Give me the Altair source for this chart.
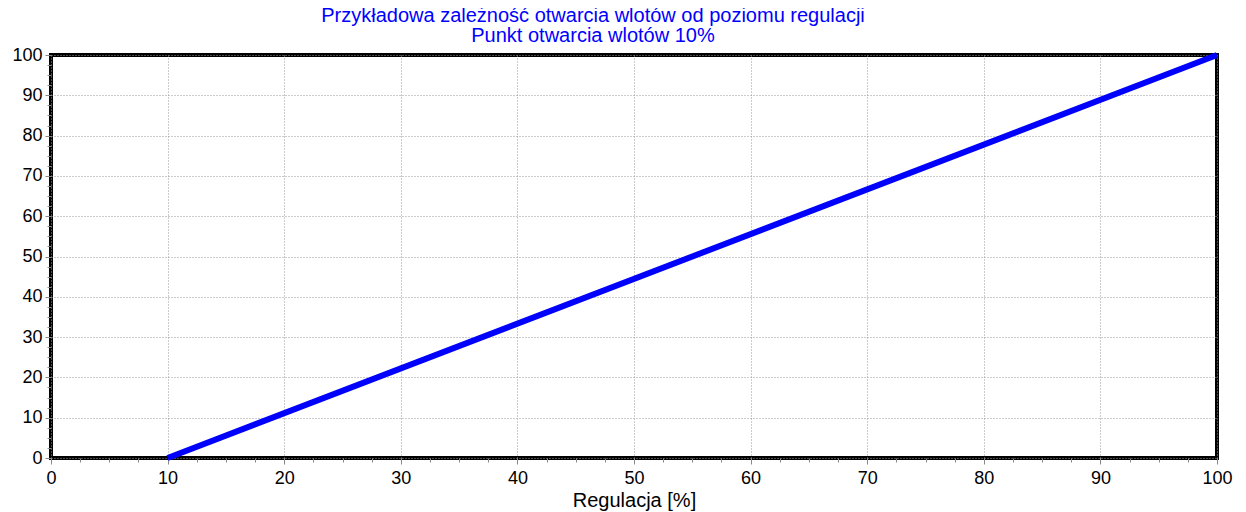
import altair as alt
import pandas as pd

reg = [10, 100]
otw = [0, 100]
major = [0, 10, 20, 30, 40, 50, 60, 70, 80, 90, 100]
minor = [i * 2.5 for i in range(41)]

df = pd.DataFrame({"x": reg, "y": otw})
FONT = "Liberation Sans"

xscale = alt.Scale(domain=[0, 100], nice=False)
yscale = alt.Scale(domain=[0, 100], nice=False)

line = alt.Chart(df).mark_line(color="#0000FF", strokeWidth=6, strokeCap="butt").encode(
    x=alt.X("x:Q", scale=xscale,
            axis=alt.Axis(values=major, title="Regulacja [%]", orient="bottom",
                          grid=True, gridColor="#999999", gridDash=[1, 2], gridWidth=1,
                          tickColor="#888888", tickSize=6, labelFontSize=18,
                          labelFont=FONT, labelColor="black", labelPadding=5,
                          titleFont=FONT, titleFontSize=20, titleFontWeight="normal",
                          titleColor="black", titlePadding=3, domain=False, labelFlush=False)),
    y=alt.Y("y:Q", scale=yscale,
            axis=alt.Axis(values=major, title=None, orient="left",
                          grid=True, gridColor="#999999", gridDash=[1, 2], gridWidth=1,
                          tickColor="#888888", tickSize=6, labelFontSize=18,
                          labelFont=FONT, labelColor="black", labelPadding=3,
                          domain=False, labelFlush=False)),
)

minor_layer = alt.Chart(df).mark_line(opacity=0).encode(
    x=alt.X("x:Q", scale=xscale,
            axis=alt.Axis(values=minor, orient="bottom", labels=False, title=None,
                          grid=False, tickColor="#888888", tickSize=4, domain=False)),
    y=alt.Y("y:Q", scale=yscale,
            axis=alt.Axis(values=minor, orient="left", labels=False, title=None,
                          grid=False, tickColor="#888888", tickSize=4, domain=False)),
)

chart = alt.layer(minor_layer, line).resolve_axis(x="independent", y="independent").properties(
    width=1166,
    height=403,
    background="white",
    autosize=alt.AutoSizeParams(type="none"),
    padding={"left": 43, "top": 47, "right": 20, "bottom": 54},
    title=alt.TitleParams(
        text=["Przykładowa zależność otwarcia wlotów od poziomu regulacji",
              "Punkt otwarcia wlotów 10%"],
        color="#0000FF", fontSize=20, font=FONT, fontWeight="normal",
        anchor="middle", dx=-41, dy=13, offset=10, lineHeight=20,
    ),
).configure_view(stroke="black", strokeWidth=4)

chart.save("out.html", embed_options={"renderer": "svg", "actions": False})
